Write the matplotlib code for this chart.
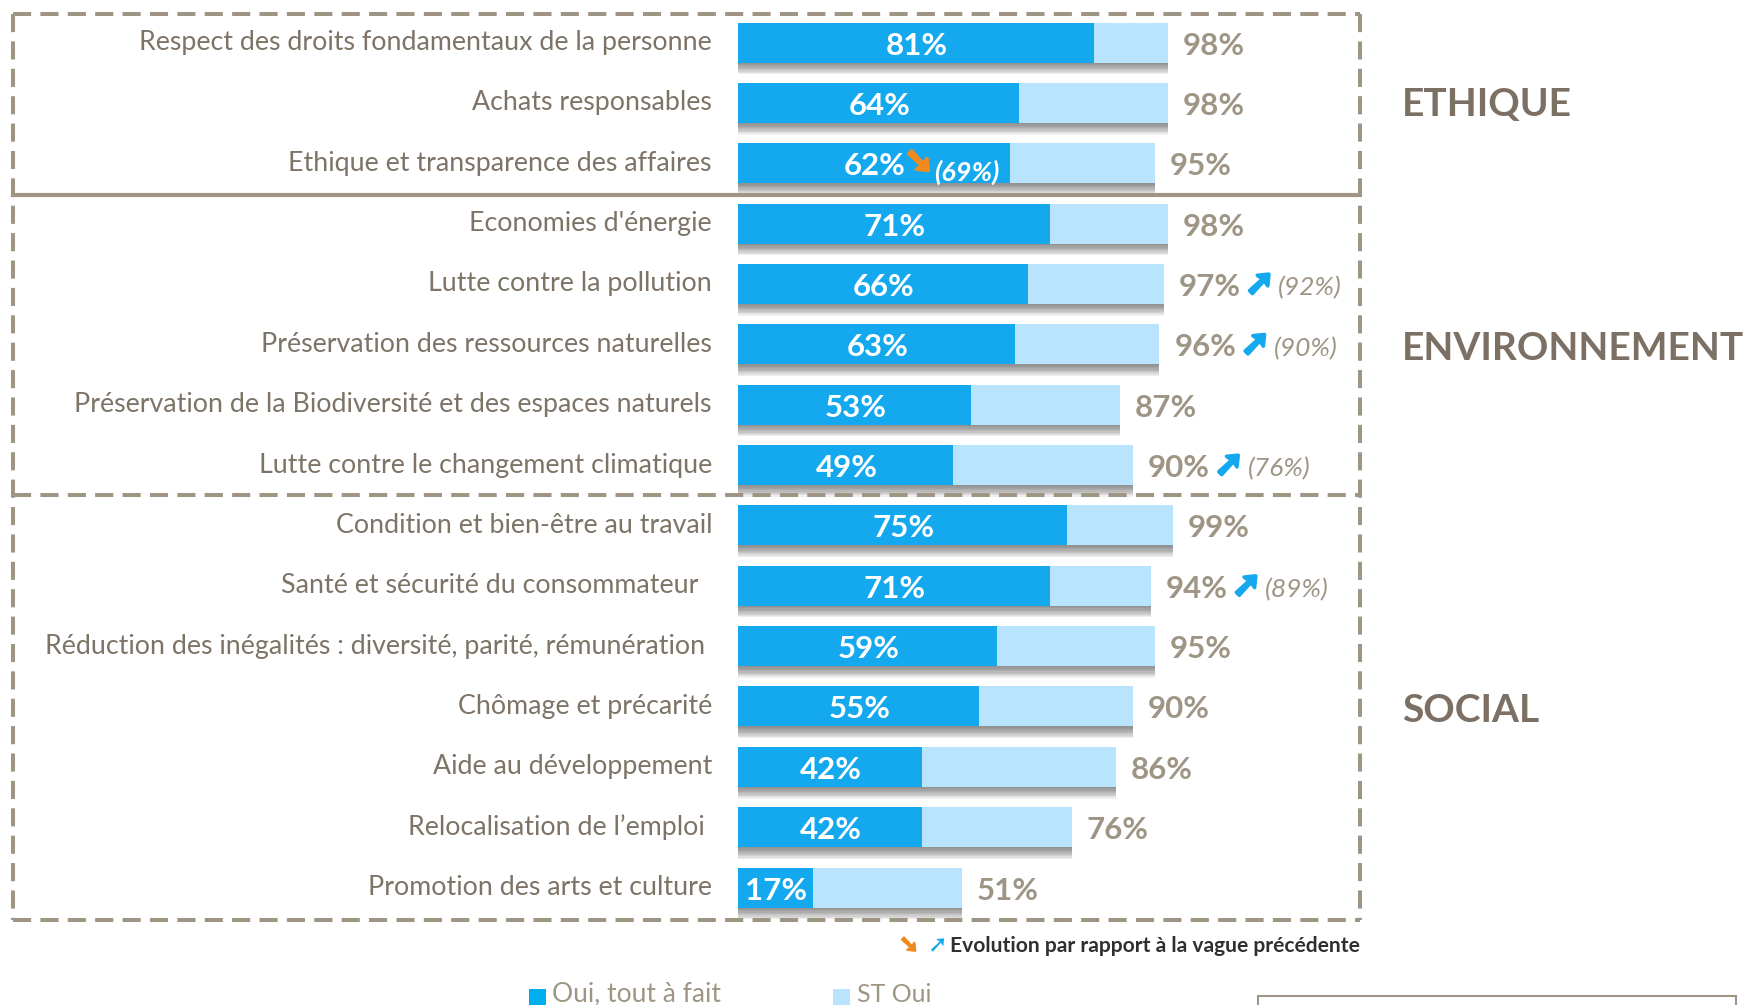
import matplotlib
matplotlib.use("Agg")
import matplotlib.pyplot as plt
import matplotlib.patheffects as pe
from matplotlib.lines import Line2D
from matplotlib.patches import Rectangle

plt.rcParams['font.family'] = ['Lato', 'DejaVu Sans']

labels = ["Respect des droits fondamentaux de la personne", "Achats responsables",
          "Ethique et transparence des affaires", "Economies d'énergie",
          "Lutte contre la pollution", "Préservation des ressources naturelles",
          "Préservation de la Biodiversité et des espaces naturels",
          "Lutte contre le changement climatique", "Condition et bien-être au travail",
          "Santé et sécurité du consommateur  ",
          "Réduction des inégalités : diversité, parité, rémunération ",
          "Chômage et précarité", "Aide au développement", "Relocalisation de l’emploi ",
          "Promotion des arts et culture"]
tout_a_fait = [81, 64, 62, 71, 66, 63, 53, 49, 75, 71, 59, 55, 42, 42, 17]
st_oui = [98, 98, 95, 98, 97, 96, 87, 90, 99, 94, 95, 90, 86, 76, 51]
prec_tout_a_fait = [None, None, 69, None, None, None, None, None, None, None, None, None, None, None, None]
prec_st_oui = [None, None, None, None, 92, 90, None, 76, None, 89, None, None, None, None, None]
groupes = ["ETHIQUE", "ENVIRONNEMENT", "SOCIAL"]
groupes_pos = [1.02, 5.07, 11.07]

BLUE, LIGHT = "#14A9EE", "#B9E4FD"
TXT, TOT, FRAME, HEAD = "#7D7467", "#9E9585", "#9E9585", "#7B7063"
ORANGE = "#F08A1E"
W, H = 1745, 1005
X0, PX = 738, 4.39          # pixel of 0 %, pixels per %
Y0, STEP = 42.6, 60.35      # pixel of first bar, pixels per row
BAR_H = 40 / STEP


def fat(c, w=2.6):
    return [pe.withStroke(linewidth=w, foreground=c)]


fig = plt.figure(figsize=(W / 100, H / 100), dpi=100, facecolor="white")
ax = fig.add_axes([0, 0, 1, 1])
ax.set_xlim(-X0 / PX, (W - X0) / PX)
ax.set_ylim((H - Y0) / STEP, -Y0 / STEP)
ax.axis("off")
ys = list(range(len(labels)))

# soft shadow below bars
for k in range(1, 10):
    ax.barh([y + k * 1.3 / STEP for y in ys], st_oui, height=BAR_H, color="#444444",
            alpha=0.085, lw=0, zorder=1)
ax.barh(ys, st_oui, height=BAR_H, color=LIGHT, lw=0, zorder=2)
ax.barh(ys, tout_a_fait, height=BAR_H, color=BLUE, lw=0, zorder=3)

for y, lab, a, s, pa, ps in zip(ys, labels, tout_a_fait, st_oui, prec_tout_a_fait, prec_st_oui):
    ax.annotate(lab, (0, y), xytext=(-26, 0), textcoords="offset pixels", ha="right",
                va="center", fontsize=19.3, color=TXT)
    ax.annotate(f"{a}%", (a / 2, y), xytext=(1, -3), textcoords="offset pixels", ha="center",
                va="center", fontsize=22.5, color="white", fontweight="bold", zorder=5)
    ax.annotate(f"{s}%", (s, y), xytext=(15, -3), textcoords="offset pixels", ha="left",
                va="center", fontsize=22.5, color=TOT, fontweight="bold")
    if pa is not None:
        ax.annotate("➘", (a / 2, y), xytext=(45, 1), textcoords="offset pixels",
                    ha="center", va="center", fontsize=25, color=ORANGE, family="DejaVu Sans",
                    zorder=6, path_effects=fat(ORANGE))
        ax.annotate(f"({pa}%)", (a / 2, y), xytext=(93, -9), textcoords="offset pixels",
                    ha="center", va="center", fontsize=19.5, color="white", style="italic",
                    fontweight="bold", zorder=6)
    if ps is not None:
        ax.annotate("➚", (s, y), xytext=(96, 0), textcoords="offset pixels",
                    ha="center", va="center", fontsize=25, color=BLUE, family="DejaVu Sans",
                    zorder=6, path_effects=fat(BLUE))
        ax.annotate(f"({ps}%)", (s, y), xytext=(146, -4), textcoords="offset pixels",
                    ha="center", va="center", fontsize=19, color=TOT, style="italic", zorder=6)

for g, gy in zip(groupes, groupes_pos):
    ax.annotate(g, (0, gy), xytext=(1402 - X0, 0), textcoords="offset pixels", ha="left",
                va="center", fontsize=28, color=HEAD, fontweight="bold")


def fx(px):
    return px / W


def fy(py):
    return 1 - py / H


dash = dict(color=FRAME, lw=2.9, ls=(0, (4.5, 2.3)), dash_capstyle="butt")
L, R, T, B = 13, 1360, 14, 920
for xs, yy in [((L, R), (T, T)), ((L, R), (B, B)), ((L, L), (T, B)), ((R, R), (T, B)),
               ((L, R), (495, 495))]:
    fig.add_artist(Line2D([fx(v) for v in xs], [fy(v) for v in yy], **dash))
fig.add_artist(Line2D([fx(L), fx(R)], [fy(195), fy(195)], color=FRAME, lw=3))

# evolution note
fig.text(fx(1360), fy(946), "Evolution par rapport à la vague précédente", ha="right", va="center",
         fontsize=15.1, fontweight="bold", color="#2F2F2F")
fig.text(fx(909), fy(945), "➘", ha="center", va="center", fontsize=17, color=ORANGE,
         family="DejaVu Sans", path_effects=fat(ORANGE, 1.6))
fig.text(fx(937), fy(945), "➚", ha="center", va="center", fontsize=17, color=BLUE,
         family="DejaVu Sans")

# legend (cut by the bottom edge)
fig.add_artist(Rectangle((fx(529), fy(1010)), 17 / W, 21 / H, color="#00AEEF", lw=0))
fig.add_artist(Rectangle((fx(833), fy(1010)), 17 / W, 21 / H, color=LIGHT, lw=0))
fig.text(fx(552), fy(994), "Oui, tout à fait", ha="left", va="center", fontsize=19, color=TOT)
fig.text(fx(857), fy(994), "ST Oui", ha="left", va="center", fontsize=18, color=TOT)

# frame box cut by bottom edge
fig.add_artist(Rectangle((fx(1258), fy(1020)), 478 / W, 24 / H, fill=False, ec=FRAME, lw=1.5))

fig.savefig("out.png", dpi=100)
